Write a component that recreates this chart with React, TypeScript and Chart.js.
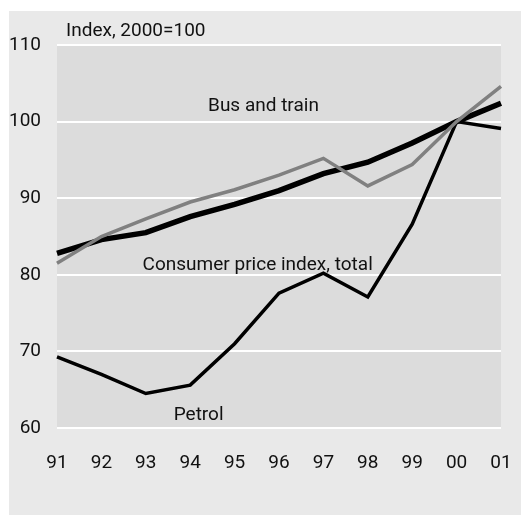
import React, { useEffect, useRef } from "react";
import { Chart, registerables } from "chart.js";

Chart.register(...registerables);

const years = ["91", "92", "93", "94", "95", "96", "97", "98", "99", "00", "01"];
const cpiTotal = [82.8, 84.6, 85.5, 87.6, 89.2, 91.0, 93.2, 94.7, 97.2, 100, 102.4];
const busAndTrain = [81.5, 85.0, 87.3, 89.5, 91.1, 93.0, 95.2, 91.6, 94.4, 100, 104.6];
const petrol = [69.3, 67.0, 64.5, 65.6, 71.0, 77.6, 80.2, 77.1, 86.6, 100, 99.1];
const yTicks = [60, 70, 80, 90, 100, 110];

const FONT = "Roboto, 'Open Sans', sans-serif";
const FONT_SIZE = 19;

const annotations = [
  { text: "Bus and train", x: 4.65, y: 102.0 },
  { text: "Consumer price index, total", x: 4.52, y: 81.2 },
  { text: "Petrol", x: 3.19, y: 61.6 },
];

const backgroundPlugin = {
  id: "panelBg",
  beforeDraw(chart: any) {
    const { ctx, chartArea } = chart;
    ctx.save();
    ctx.fillStyle = "#ffffff";
    ctx.fillRect(0, 0, chart.width, chart.height);
    ctx.fillStyle = "#e9e9e9";
    ctx.fillRect(9, 11, chart.width - 9, chart.height - 11);
    ctx.fillStyle = "#dcdcdc";
    ctx.fillRect(chartArea.left, chartArea.top, chartArea.right - chartArea.left, chartArea.bottom - chartArea.top);
    ctx.restore();
  },
};

const textPlugin = {
  id: "texts",
  afterDraw(chart: any) {
    const { ctx, scales } = chart;
    ctx.save();
    ctx.fillStyle = "#111111";
    ctx.font = `${FONT_SIZE}px ${FONT}`;
    ctx.textBaseline = "middle";
    ctx.textAlign = "left";
    ctx.fillText("Index, 2000=100", 66, 31);
    ctx.textAlign = "center";
    for (const a of annotations) {
      const px = scales.x.getPixelForValue(a.x);
      const py = scales.y.getPixelForValue(a.y);
      ctx.fillText(a.text, px, py);
    }
    ctx.restore();
  },
};

export default function App() {
  const ref = useRef<HTMLCanvasElement | null>(null);
  useEffect(() => {
    document.body.style.margin = "0";
    const canvas = ref.current!;
    const chart = new Chart(canvas, {
      type: "line",
      data: {
        labels: years,
        datasets: [
          {
            label: "Bus and train",
            data: busAndTrain,
            borderColor: "#808080",
            borderWidth: 3.5,
            pointRadius: 0,
            tension: 0,
          },
          {
            label: "Petrol",
            data: petrol,
            borderColor: "#000000",
            borderWidth: 3.5,
            pointRadius: 0,
            tension: 0,
          },
          {
            label: "Consumer price index, total",
            data: cpiTotal,
            borderColor: "#000000",
            borderWidth: 5.5,
            pointRadius: 0,
            tension: 0,
          },
        ],
      },
      options: {
        animation: false,
        responsive: false,
        maintainAspectRatio: false,
        layout: { padding: { left: 0, right: 20, top: 45, bottom: 0 } },
        plugins: { legend: { display: false }, tooltip: { enabled: false } },
        scales: {
          x: {
            type: "category",
            offset: false,
            grid: { display: false, drawTicks: false },
            border: { display: false },
            ticks: {
              color: "#111111",
              font: { family: FONT, size: FONT_SIZE },
              padding: 24,
              maxRotation: 0,
              autoSkip: false,
            },
            afterFit(scale: any) {
              scale.height = 87;
              scale.paddingLeft = 0;
              scale.paddingRight = 0;
            },
          },
          y: {
            min: 60,
            max: 110,
            afterBuildTicks(scale: any) {
              scale.ticks = yTicks.map((v) => ({ value: v }));
            },
            grid: { color: "#ffffff", lineWidth: 2, drawTicks: false },
            border: { display: false },
            ticks: {
              color: "#111111",
              font: { family: FONT, size: FONT_SIZE },
              padding: 16,
            },
            afterFit(scale: any) {
              scale.width = 57;
            },
          },
        },
      },
      plugins: [backgroundPlugin, textPlugin],
    });
    return () => chart.destroy();
  }, []);
  return <canvas ref={ref} width={521} height={515} style={{ display: "block" }} />;
}
